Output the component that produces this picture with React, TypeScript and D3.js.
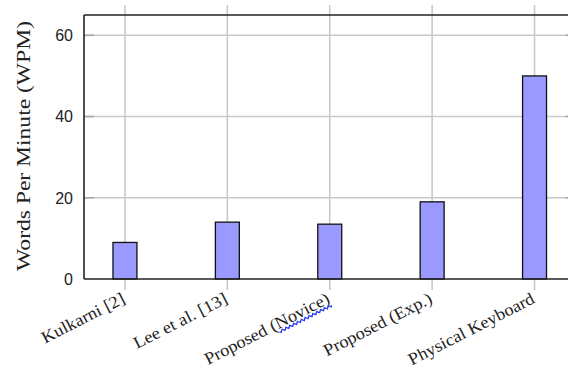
import React, { useEffect, useRef } from "react";
import * as d3 from "d3";

const categories = [
  "Kulkarni [2]",
  "Lee et al. [13]",
  "Proposed (Novice)",
  "Proposed (Exp.)",
  "Physical Keyboard",
];
const wpm = [9, 14, 13.5, 19, 50];
const yTicks = [0, 20, 40, 60];

const W = 568;
const H = 371;

export default function App() {
  const ref = useRef<SVGSVGElement | null>(null);

  useEffect(() => {
    const svg = d3.select(ref.current);
    svg.selectAll("*").remove();

    const left = 84;
    const top = 15;
    const bottom = 279;
    const x = d3.scaleLinear().domain([-0.4, 4.4]).range([left, 575.5]);
    const y = d3.scaleLinear().domain([0, 65]).range([bottom, top]);
    const right = x(4.4);
    const halfBar = 0.117;
    const grid = "#c9c9c9";
    const serif = "'Liberation Serif', 'Times New Roman', serif";

    // grid lines (vertical ones run past the frame as outward ticks)
    svg
      .append("g")
      .selectAll("line")
      .data(categories)
      .join("line")
      .attr("x1", (_, i) => x(i))
      .attr("x2", (_, i) => x(i))
      .attr("y1", 5)
      .attr("y2", 290)
      .attr("stroke", grid)
      .attr("stroke-width", 1.6);

    svg
      .append("g")
      .selectAll("line")
      .data(yTicks.filter((t) => t > 0))
      .join("line")
      .attr("x1", left)
      .attr("x2", right)
      .attr("y1", (d) => y(d))
      .attr("y2", (d) => y(d))
      .attr("stroke", grid)
      .attr("stroke-width", 1.6);

    // inward y ticks, left and right
    const tickG = svg.append("g").attr("stroke", "#a8a8a8").attr("stroke-width", 1.6);
    yTicks
      .filter((t) => t > 0)
      .forEach((t) => {
        tickG.append("line").attr("x1", left).attr("x2", left + 10).attr("y1", y(t)).attr("y2", y(t));
        tickG.append("line").attr("x1", right - 10).attr("x2", right).attr("y1", y(t)).attr("y2", y(t));
      });

    // bars
    svg
      .append("g")
      .selectAll("rect")
      .data(wpm)
      .join("rect")
      .attr("x", (_, i) => x(i - halfBar))
      .attr("width", (_, i) => x(i + halfBar) - x(i - halfBar))
      .attr("y", (d) => y(d))
      .attr("height", (d) => y(0) - y(d))
      .attr("fill", "#9999ff")
      .attr("stroke", "#111")
      .attr("stroke-width", 1.3);

    // frame
    const frame = svg.append("g").attr("stroke", "#222").attr("stroke-width", 1.6);
    frame.append("line").attr("x1", left).attr("x2", right).attr("y1", top).attr("y2", top);
    frame.append("line").attr("x1", left).attr("x2", right).attr("y1", bottom).attr("y2", bottom);
    frame.append("line").attr("x1", left).attr("x2", left).attr("y1", top).attr("y2", bottom);

    // y tick labels
    svg
      .append("g")
      .selectAll("text")
      .data(yTicks)
      .join("text")
      .attr("x", 73)
      .attr("y", (d) => y(d))
      .attr("dy", "0.36em")
      .attr("text-anchor", "end")
      .attr("font-family", "'Liberation Sans', Arial, sans-serif")
      .attr("font-size", 16)
      .attr("fill", "#222")
      .text((d) => d);

    // y axis title
    svg
      .append("text")
      .attr("transform", `translate(30, 146) rotate(-90)`)
      .attr("text-anchor", "middle")
      .attr("font-family", serif)
      .attr("font-size", 18)
      .attr("textLength", 250)
      .attr("lengthAdjust", "spacingAndGlyphs")
      .attr("fill", "#222")
      .text("Words Per Minute (WPM)");

    // category labels
    const labelTransform = (i: number) =>
      `translate(${x(i) - 4}, 292) rotate(-27) scale(1.08, 1)`;
    const labels = svg
      .append("g")
      .selectAll("text")
      .data(categories)
      .join("text")
      .attr("transform", (_, i) => labelTransform(i))
      .attr("text-anchor", "end")
      .attr("dy", "0.68em")
      .attr("font-family", serif)
      .attr("font-size", 17)
      .attr("fill", "#222")
      .text((d) => d);

    // spell-check squiggle under "Novice"
    labels.each(function (d, i) {
      const word = "Novice";
      const idx = d.indexOf(word);
      if (idx < 0) return;
      const el = this as SVGTextElement;
      const full = el.getComputedTextLength();
      const startX = -full + el.getSubStringLength(0, idx);
      const len = el.getSubStringLength(idx, word.length + 1);
      const pts: [number, number][] = [];
      for (let s = 0; s <= len; s += 1) {
        pts.push([startX + s, 14.5 + 1.2 * Math.sin((s / 4) * Math.PI * 2)]);
      }
      svg
        .append("path")
        .attr("transform", labelTransform(i))
        .attr("d", d3.line()(pts))
        .attr("fill", "none")
        .attr("stroke", "#2233ee")
        .attr("stroke-width", 1.2);
    });
  }, []);

  return (
    <svg
      ref={ref}
      width={W}
      height={H}
      style={{ position: "absolute", left: 0, top: 0, background: "#fff" }}
    />
  );
}
